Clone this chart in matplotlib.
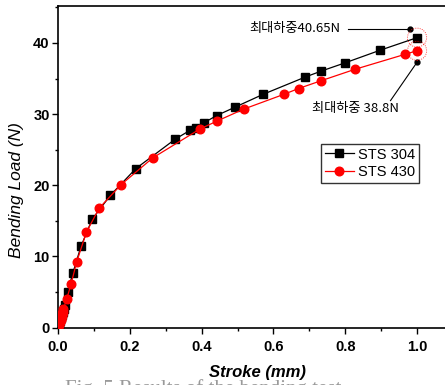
import matplotlib
matplotlib.use("Agg")
import matplotlib.pyplot as plt
from matplotlib.patches import Ellipse

# STS 304 data
x304 = [0.0, 0.002, 0.004, 0.006, 0.008, 0.010, 0.013, 0.016, 0.020, 0.027, 0.041, 0.064, 0.095,
        0.146, 0.217, 0.327, 0.367, 0.384, 0.407, 0.442, 0.494, 0.572, 0.688, 0.733,
        0.799, 0.898, 1.0]
y304 = [0.0, 0.3, 0.6, 0.9, 1.3, 1.7, 2.2, 2.6, 3.1, 5.0, 7.6, 11.4, 15.2,
        18.6, 22.35, 26.5, 27.7, 28.1, 28.8, 29.8, 31.0, 32.8, 35.2, 36.05,
        37.2, 39.0, 40.75]

# STS 430 data
x430 = [0.0, 0.001, 0.002, 0.003, 0.004, 0.005, 0.006, 0.007, 0.008, 0.009, 0.010, 0.011,
        0.012, 0.013, 0.015, 0.024, 0.036, 0.052, 0.079, 0.115, 0.176, 0.264, 0.395,
        0.444, 0.517, 0.630, 0.670, 0.733, 0.827, 0.966, 0.999]
y430 = [0.0, 0.15, 0.3, 0.45, 0.6, 0.75, 0.9, 1.05, 1.2, 1.4, 1.6, 1.8,
        2.0, 2.2, 2.6, 3.95, 6.05, 9.2, 13.4, 16.8, 20.1, 23.85, 27.9,
        29.05, 30.7, 32.8, 33.6, 34.7, 36.3, 38.4, 38.9]

xticks = [0.0, 0.2, 0.4, 0.6, 0.8, 1.0]
xtick_labels = ["0.0", "0.2", "0.4", "0.6", "0.8", "1.0"]
yticks = [0, 10, 20, 30, 40]

ann1_text = "최대하중40.65N"
ann2_text = "최대하중 38.8N"
caption = "Fig. 5 Results of the bending test"

plt.rcParams['font.family'] = ['Liberation Sans', 'Noto Sans CJK KR', 'DejaVu Sans']

fig = plt.figure(figsize=(4.45, 3.85), dpi=100)
ax = fig.add_axes([58/445, 1 - 327.5/385, 1 - 58/445 + 0.01, (327.5 - 6)/385])

ax.plot(x304, y304, color='black', lw=0.9, marker='s', ms=5.2, mfc='black', mec='black',
        label='STS 304', zorder=3)
ax.plot(x430, y430, color='red', lw=0.9, marker='o', ms=6.2, mfc='red', mec='red',
        label='STS 430', zorder=4)

ax.set_xlim(0, 387/355)
ax.set_ylim(0, 45.2)

ax.set_xticks(xticks)
ax.set_xticklabels(xtick_labels)
ax.set_yticks(yticks)
ax.set_xticks([0.1, 0.3, 0.5, 0.7, 0.9], minor=True)
ax.set_yticks([5, 15, 25, 35, 45], minor=True)
ax.tick_params(axis='both', which='major', direction='out', length=4, width=1,
               labelsize=10.5)
ax.tick_params(axis='both', which='minor', direction='out', length=2.5, width=1)
for lab in ax.get_xticklabels() + ax.get_yticklabels():
    lab.set_fontweight('bold')
ax.tick_params(axis='x', pad=5)
ax.tick_params(axis='y', pad=2)

for s in ['left', 'bottom', 'top']:
    ax.spines[s].set_linewidth(1.2)
ax.spines['right'].set_visible(False)

ax.set_xlabel('Stroke (mm)', fontsize=12, fontweight='bold', fontstyle='italic')
ax.xaxis.set_label_coords((255 - 58) / 387, -(372 - 327.5) / 321.5)
ax.xaxis.label.set_va('center')
ax.set_ylabel('Bending Load (N)', fontsize=12.5, fontweight='medium', fontstyle='italic')
ax.yaxis.set_label_coords((17 - 58) / 387, (327.5 - 190) / 321.5)
ax.yaxis.label.set_va('center')

leg = ax.legend(loc='upper left', bbox_to_anchor=(0.672, 0.571), fontsize=10.5,
                frameon=True, fancybox=False, edgecolor='black', handlelength=2.0,
                borderpad=0.25, labelspacing=0.25, handletextpad=0.3, borderaxespad=0)
leg.get_frame().set_linewidth(1.0)

# annotations
ax.plot([0.979], [42.0], 'o', color='black', ms=3.5, zorder=5)
ax.plot([0.808, 0.979], [42.0, 42.0], color='black', lw=0.8)
ax.text(0.786, 42.1, ann1_text, ha='right', va='center', fontsize=9.5,
        family=['Noto Sans CJK KR', 'Liberation Sans'])

ax.plot([1.0], [37.3], 'o', color='black', ms=3.5, zorder=5)
ax.plot([0.926, 1.0], [31.9, 37.3], color='black', lw=0.8)
ax.text(0.828, 30.8, ann2_text, ha='center', va='center', fontsize=9.5,
        family=['Noto Sans CJK KR', 'Liberation Sans'])

rx, ry = 9.5/355, 9.5/7.1
for cx, cy in [(1.0, 40.75), (1.0, 38.9)]:
    ax.add_patch(Ellipse((cx, cy), 2*rx, 2*ry, fill=False, edgecolor='red', lw=0.6,
                         linestyle=':', zorder=6))

fig.text(65/445, 1 - 379/385, caption, ha='left', va='top', fontsize=15,
         family='Liberation Serif', color='#9a9a9a')

fig.savefig('out.png', dpi=100)
